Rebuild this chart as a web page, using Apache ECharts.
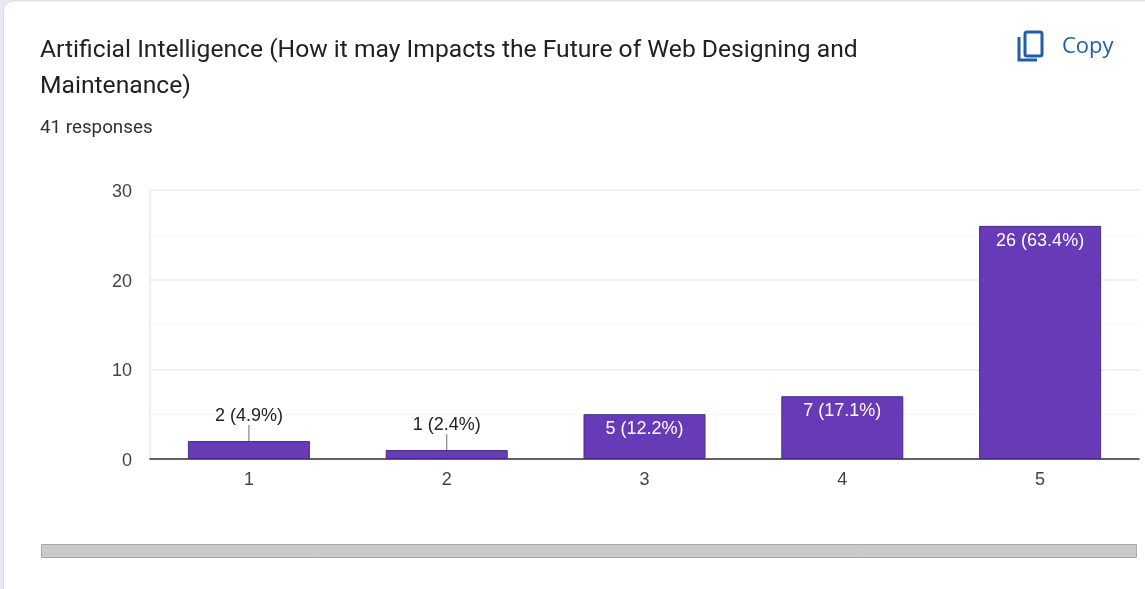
<!DOCTYPE html>
<html><head><meta charset="utf-8">
<style>html,body{margin:0;padding:0;background:#fff}#c{width:1145px;height:589px}</style>
<script src="https://cdn.jsdelivr.net/npm/echarts@6/dist/echarts.min.js"></script>
</head><body><div id="c"></div>
<script>
const titleLine1 = "Artificial Intelligence (How it may Impacts the Future of Web Designing and";
const titleLine2 = "Maintenance)";
const responses = "41 responses";
const categories = ["1","2","3","4","5"];
const counts = [2,1,5,7,26];
const percents = ["4.9%","2.4%","12.2%","17.1%","63.4%"];
const outsideLimit = 5;
const chart = echarts.init(document.getElementById('c'), null, {renderer:'canvas'});
chart.setOption({
  animation:false,
  backgroundColor:'#fff',
  grid:{left:150,right:6,top:190,bottom:130,containLabel:false},
  xAxis:{type:'category',data:categories,
    axisLine:{lineStyle:{color:'#333',width:1.5}},axisTick:{show:false},
    axisLabel:{color:'#444',fontFamily:'Liberation Sans',fontSize:18,margin:12}},
  yAxis:{type:'value',min:0,max:30,interval:10,
    axisLine:{show:true,lineStyle:{color:'#e8e8e8',width:1.5}},axisTick:{show:false},
    axisLabel:{margin:18,formatter:'{a|{value}}',
      rich:{a:{color:'#444',fontFamily:'Liberation Sans',fontSize:18,padding:[4,0,0,0]}}},
    splitLine:{lineStyle:{color:'#ececec',width:1.5}},
    minorTick:{show:false,splitNumber:2},
    minorSplitLine:{show:true,lineStyle:{color:'#f6f6f6',width:1}}},
  series:[{type:'bar',barWidth:122,
    itemStyle:{color:'#673ab7',borderColor:'#4a2c8c',borderWidth:1},
    labelLine:{show:true,lineStyle:{color:'#888',width:1.2}},
    labelLayout:function(p){return counts[p.dataIndex]<outsideLimit?{dy:-11}:{};},
    data:counts.map((v,i)=>{
      const text = v+' ('+percents[i]+')';
      const out = v<outsideLimit;
      return {value:v,
        labelLine:{show:out},
        label:{show:true,formatter:text,position:out?'top':'insideTop',distance:out?5:6,
          color:out?'#222':'#fff',fontFamily:'Liberation Sans',fontSize:18}
      };
    })
  }],
  graphic:[
    {type:'rect',z:-10,shape:{x:0,y:0,width:1145,height:589},style:{fill:'#e9e7f4'}},
    {type:'rect',z:-9,shape:{x:3.5,y:1,width:1160,height:600,r:10},style:{fill:'#fff',stroke:'#dcdcdc',lineWidth:1}},
    {type:'text',x:40,y:38,style:{text:titleLine1,fill:'#202124',font:'24.65px Roboto'}},
    {type:'text',x:40,y:74,style:{text:titleLine2,fill:'#202124',font:'24.65px Roboto'}},
    {type:'text',x:40,y:119,style:{text:responses,fill:'#303134',font:'18.8px Roboto'}},
    {type:'rect',shape:{x:1025,y:32,width:17,height:24,r:2},style:{fill:'none',stroke:'#1f5fa9',lineWidth:3}},
    {type:'polyline',shape:{points:[[1019,37],[1019,60],[1037,60]]},style:{fill:'none',stroke:'#1f5fa9',lineWidth:3}},
    {type:'text',x:1062,y:36,style:{text:'Copy',fill:'#1f5fa9',font:'22px "Open Sans"'}},
    {type:'rect',shape:{x:41.5,y:544.5,width:1095,height:13},style:{fill:'#cacaca',stroke:'#a9a9a9',lineWidth:1}}
  ]
});
</script></body></html>
